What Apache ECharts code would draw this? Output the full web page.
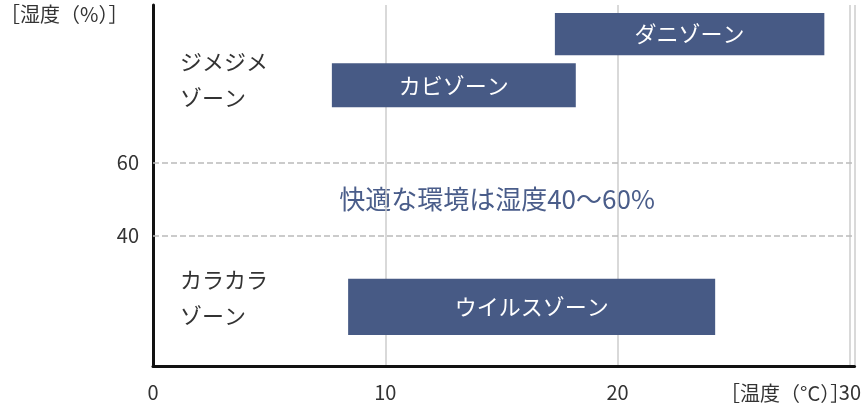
<!DOCTYPE html><html><head><meta charset="utf-8"><script src="https://cdn.jsdelivr.net/npm/echarts@6/dist/echarts.min.js"></script></head><body style="margin:0"><div id="c" style="width:864px;height:420px"></div><script>
const zoneNames=['ダニゾーン','カビゾーン','ウイルスゾーン'];
const tempStart=[17.3,7.7,8.4];
const tempEnd=[28.9,18.2,24.2];
const humLow=[89.3,75.1,12.9];
const humHigh=[100.8,87.1,28.2];
const comfortLines=[40,60];
const F='Noto Sans CJK JP';
const data=zoneNames.map((n,i)=>[tempStart[i],tempEnd[i],humLow[i],humHigh[i],n]);
const ch=echarts.init(document.getElementById('c'));
ch.setOption({
grid:{left:153,right:6,top:5,bottom:54},
xAxis:{type:'value',min:0,max:30.2,interval:10,axisLine:{lineStyle:{color:'#111',width:3}},axisTick:{show:false},
 axisLabel:{fontFamily:F,fontSize:20,color:'#333',margin:16,formatter:v=>v%10===0?v:''},
 splitLine:{lineStyle:{color:'#ccc',width:1.5}}},
yAxis:{type:'value',min:4.4,max:103,axisLine:{show:true,lineStyle:{color:'#111',width:3}},axisTick:{show:false},axisLabel:{show:false},splitLine:{show:false}},
graphic:[
 {type:'text',x:0,y:4,style:{text:'［湿度（%）］',font:'20px "'+F+'"',fill:'#333'}},
 {type:'text',x:720,y:383,style:{text:'［温度（°C）］',font:'20px "'+F+'"',fill:'#333'}},
 {type:'text',x:180,y:44,style:{text:'ジメジメ\nゾーン',font:'22px "'+F+'"',fill:'#333',lineHeight:36}},
 {type:'text',x:180,y:262,style:{text:'カラカラ\nゾーン',font:'22px "'+F+'"',fill:'#333',lineHeight:36}},
 {type:'text',x:497,y:199,style:{text:'快適な環境は湿度40〜60%',font:'26px "'+F+'"',fill:'#4a5d8a',align:'center',verticalAlign:'middle'}}
],
series:[{type:'custom',data:data,
 renderItem:(p,api)=>{const a=api.coord([api.value(0),api.value(3)]),b=api.coord([api.value(1),api.value(2)]);
  return {type:'rect',shape:{x:a[0],y:a[1],width:b[0]-a[0],height:b[1]-a[1]},style:{fill:'#475a85'},
   textContent:{style:{text:data[p.dataIndex][4],fill:'#fff',fontSize:22,fontFamily:F}},textConfig:{position:'inside'}};},
 markLine:{silent:true,symbol:'none',lineStyle:{type:'dashed',color:'#bbb',width:1.5},
  label:{position:'start',fontFamily:F,fontSize:20,color:'#333',distance:14,formatter:p=>p.value},
  data:comfortLines.map(v=>({yAxis:v}))}
}]
});
</script></body></html>
